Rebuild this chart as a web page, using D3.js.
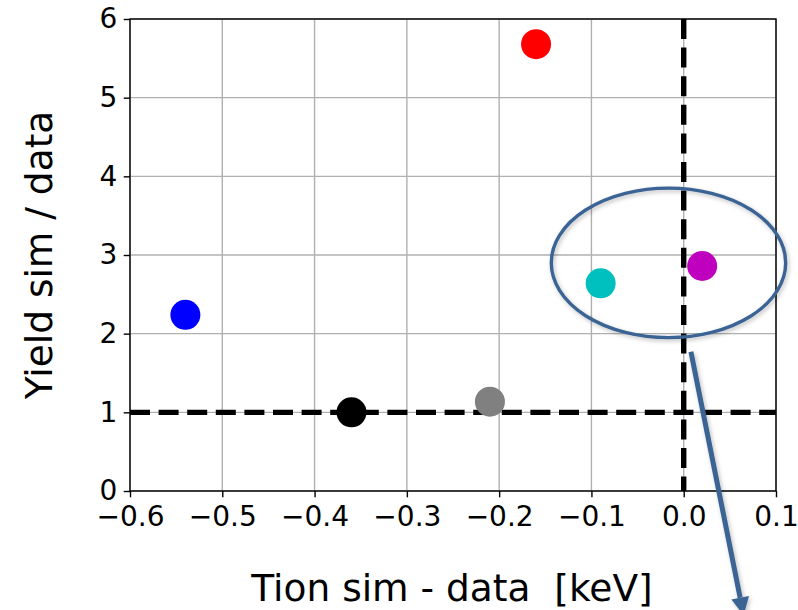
<!DOCTYPE html>
<html>
<head>
<meta charset="utf-8">
<script src="https://cdn.jsdelivr.net/npm/d3@7"></script>
<style>
  html, body { margin: 0; padding: 0; background: #fff; }
  svg { display: block; font-family: "DejaVu Sans", sans-serif; }
</style>
</head>
<body>
<svg id="chart" width="798" height="610"></svg>
<script>
// ---- data ----
const tionDiff = [-0.54, -0.36, -0.21, -0.16, -0.09, 0.02];
const yieldRatio = [2.24, 1.0, 1.135, 5.68, 2.64, 2.86];
const pointColors = ["#0000ff", "#000000", "#808080", "#ff0000", "#00bfbf", "#bf00bf"];
const xTicks = [-0.6, -0.5, -0.4, -0.3, -0.2, -0.1, 0.0, 0.1];
const yTicks = [0, 1, 2, 3, 4, 5, 6];
const xTickLabels = ["\u22120.6", "\u22120.5", "\u22120.4", "\u22120.3", "\u22120.2", "\u22120.1", "0.0", "0.1"];
const yTickLabels = ["0", "1", "2", "3", "4", "5", "6"];
const refX = [0.0];
const refY = [1.0];
const xLabel = "Tion sim - data \u00a0[keV]";
const yLabel = "Yield sim / data";
// annotation (data units): ellipse centre/radii, arrow start/end
const ellipseCenter = [-0.0165, 2.9];
const ellipseRadii = [0.127, 0.95];
const arrowFrom = [0.0078, 1.77];
const arrowTo = [0.0650, -1.58];

// ---- layout ----
const svg = d3.select("#chart");
const L = 130, R = 776, T = 19, B = 491;
const x = d3.scaleLinear().domain([-0.6, 0.1]).range([L, R]);
const y = d3.scaleLinear().domain([0, 6]).range([B, T]);

const g = svg.append("g");

// grid
g.append("g").selectAll("line").data(xTicks).join("line")
  .attr("x1", d => x(d)).attr("x2", d => x(d)).attr("y1", T).attr("y2", B)
  .attr("stroke", "#b0b0b0").attr("stroke-width", 1.4);
g.append("g").selectAll("line").data(yTicks).join("line")
  .attr("x1", L).attr("x2", R).attr("y1", d => y(d)).attr("y2", d => y(d))
  .attr("stroke", "#b0b0b0").attr("stroke-width", 1.4);

// reference dashed lines
g.selectAll("line.refx").data(refX).join("line").attr("class", "refx")
  .attr("x1", d => x(d)).attr("x2", d => x(d)).attr("y1", T).attr("y2", B)
  .attr("stroke", "#000").attr("stroke-width", 5.4).attr("stroke-dasharray", "20,8.6");
g.selectAll("line.refy").data(refY).join("line").attr("class", "refy")
  .attr("x1", L).attr("x2", R).attr("y1", d => y(d)).attr("y2", d => y(d))
  .attr("stroke", "#000").attr("stroke-width", 5.4).attr("stroke-dasharray", "20,8.6");

// axes
const xAxis = d3.axisBottom(x).tickValues(xTicks).tickSize(6.3).tickPadding(9)
  .tickFormat((d, i) => xTickLabels[i]);
const yAxis = d3.axisLeft(y).tickValues(yTicks).tickSize(6.3).tickPadding(6.5)
  .tickFormat((d, i) => yTickLabels[i]);
const gx = svg.append("g").attr("transform", `translate(0,${B})`).call(xAxis);
const gy = svg.append("g").attr("transform", `translate(${L},0)`).call(yAxis);
[gx, gy].forEach(a => {
  a.select(".domain").remove();
  a.selectAll(".tick line").attr("stroke", "#000").attr("stroke-width", 1.4);
  a.selectAll(".tick text").attr("fill", "#000").style("font-size", "28px")
    .style("font-family", "'DejaVu Sans', sans-serif");
});

// frame
svg.append("rect").attr("x", L).attr("y", T).attr("width", R - L).attr("height", B - T)
  .attr("fill", "none").attr("stroke", "#000").attr("stroke-width", 1.4);

// points
svg.append("g").selectAll("circle").data(tionDiff).join("circle")
  .attr("cx", d => x(d)).attr("cy", (d, i) => y(yieldRatio[i])).attr("r", 15)
  .attr("fill", (d, i) => pointColors[i]);

// labels
svg.append("text").attr("x", 452).attr("y", 601)
  .attr("text-anchor", "middle").style("font-size", "37.5px").attr("fill", "#000").text(xLabel);
svg.append("text").attr("transform", `translate(52,255) rotate(-90)`)
  .attr("text-anchor", "middle").style("font-size", "37.5px").attr("fill", "#000").text(yLabel);

// annotation: ellipse + arrow
const defs = svg.append("defs");
const f = defs.append("filter").attr("id", "shadow").attr("x", "-20%").attr("y", "-20%")
  .attr("width", "140%").attr("height", "140%");
f.append("feDropShadow").attr("dx", 1.5).attr("dy", 2).attr("stdDeviation", 2)
  .attr("flood-color", "#000").attr("flood-opacity", 0.25);

const annColor = "#3a6393";
svg.append("ellipse")
  .attr("cx", x(ellipseCenter[0])).attr("cy", y(ellipseCenter[1]))
  .attr("rx", x(ellipseCenter[0] + ellipseRadii[0]) - x(ellipseCenter[0]))
  .attr("ry", y(ellipseCenter[1] - ellipseRadii[1]) - y(ellipseCenter[1]))
  .attr("fill", "none").attr("stroke", annColor).attr("stroke-width", 3.4)
  .attr("filter", "url(#shadow)");

const x1 = x(arrowFrom[0]), y1 = y(arrowFrom[1]), x2 = x(arrowTo[0]), y2 = y(arrowTo[1]);
const ang = Math.atan2(y2 - y1, x2 - x1);
const headLen = 18, headW = 9;
const bx = x2 - headLen * Math.cos(ang), by = y2 - headLen * Math.sin(ang);
const ag = svg.append("g").attr("filter", "url(#shadow)");
ag.append("line").attr("x1", x1).attr("y1", y1).attr("x2", bx).attr("y2", by)
  .attr("stroke", annColor).attr("stroke-width", 5);
ag.append("path")
  .attr("d", `M${x2},${y2} L${bx + headW * Math.sin(ang)},${by - headW * Math.cos(ang)} L${bx - headW * Math.sin(ang)},${by + headW * Math.cos(ang)} Z`)
  .attr("fill", annColor);
</script>
</body>
</html>
